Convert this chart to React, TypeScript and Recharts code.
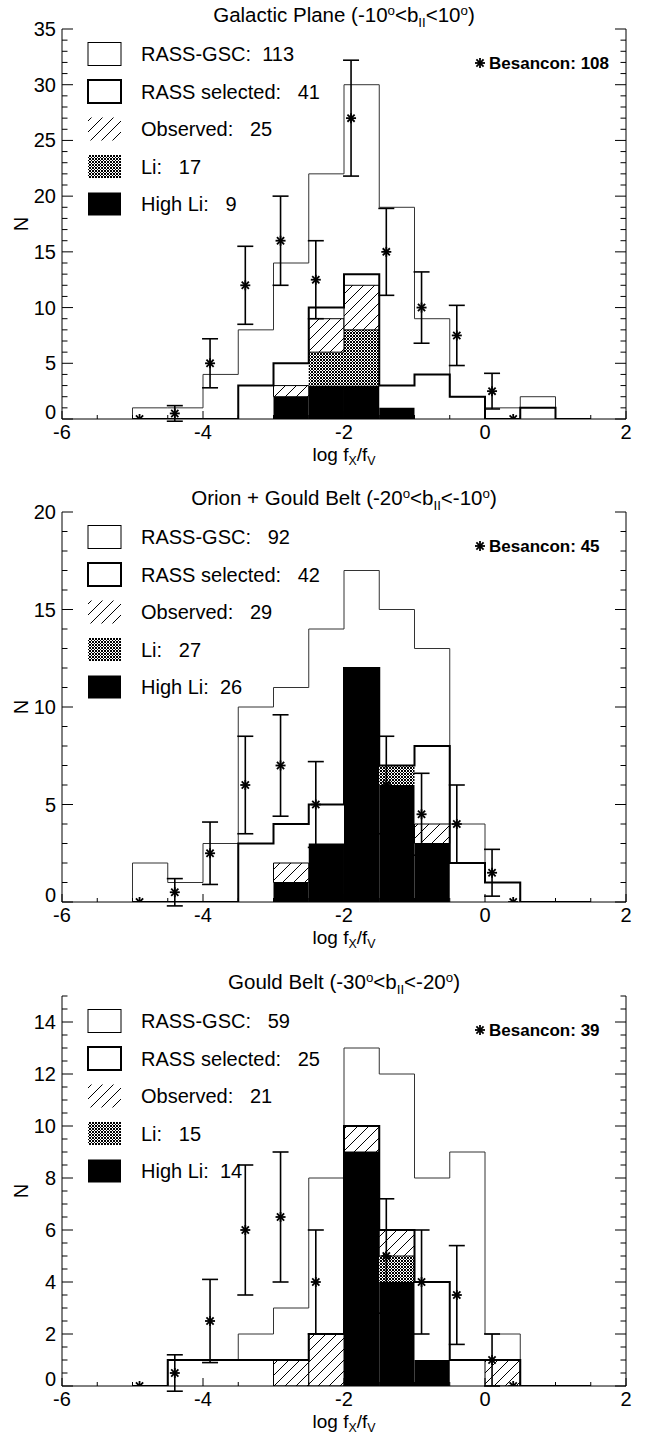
import React from 'react';
import { Bar, ComposedChart, ErrorBar, Line, Scatter, XAxis, YAxis } from 'recharts';

const FONT = '"Liberation Sans", Arial, Helvetica, sans-serif';

// bins of log fx/fv, 0.5 wide
const BIN_EDGES = [-5, -4.5, -4, -3.5, -3, -2.5, -2, -1.5, -1, -0.5, 0, 0.5, 1, 1.5];
const BIN_CENTERS = [-4.75, -4.25, -3.75, -3.25, -2.75, -2.25, -1.75, -1.25, -0.75, -0.25, 0.25, 0.75, 1.25];
const BES_X = [-4.9, -4.4, -3.9, -3.4, -2.9, -2.4, -1.9, -1.4, -0.9, -0.4, 0.1, 0.4];
const X_TICKS = [-6, -5.5, -5, -4.5, -4, -3.5, -3, -2.5, -2, -1.5, -1, -0.5, 0, 0.5, 1, 1.5, 2];
const X_LABELS = [-6, -4, -2, 0, 2];

// Galactic Plane
const GP_GSC = [1, 1, 4, 8, 14, 22, 30, 19, 9, 2, 1, 2, 0];
const GP_SEL = [0, 0, 0, 3, 5, 10, 13, 3, 4, 2, 0, 1, 0];
const GP_OBS = [0, 0, 0, 0, 3, 9, 12, 1, 0, 0, 0, 0, 0];
const GP_LI = [0, 0, 0, 0, 2, 6, 8, 1, 0, 0, 0, 0, 0];
const GP_HLI = [0, 0, 0, 0, 2, 3, 3, 1, 0, 0, 0, 0, 0];
const GP_BES = [0, 0.5, 5, 12, 16, 12.5, 27, 15, 10, 7.5, 2.5, 0];
const GP_ERR = [0, 0.7, 2.2, 3.5, 4, 3.5, 5.2, 3.9, 3.2, 2.7, 1.6, 0];
const GP_Y_LABELS = [0, 5, 10, 15, 20, 25, 30, 35];

// Orion + Gould Belt
const OG_GSC = [2, 1, 3, 10, 11, 14, 17, 15, 13, 4, 1, 0, 0];
const OG_SEL = [0, 0, 0, 3, 4, 5, 12, 7, 8, 2, 1, 0, 0];
const OG_OBS = [0, 0, 0, 0, 2, 3, 12, 7, 4, 0, 0, 0, 0];
const OG_LI = [0, 0, 0, 0, 1, 3, 12, 7, 3, 0, 0, 0, 0];
const OG_HLI = [0, 0, 0, 0, 1, 3, 12, 6, 3, 0, 0, 0, 0];
const OG_BES = [0, 0.5, 2.5, 6, 7, 5, 8, 6, 4.5, 4, 1.5, 0];
const OG_ERR = [0, 0.7, 1.6, 2.5, 2.6, 2.2, 2.8, 2.5, 2.1, 2, 1.2, 0];
const OG_Y_LABELS = [0, 5, 10, 15, 20];

// Gould Belt
const GB_GSC = [0, 1, 1, 2, 3, 8, 13, 12, 8, 9, 2, 0, 0];
const GB_SEL = [0, 1, 1, 1, 1, 2, 10, 6, 4, 1, 1, 0, 0];
const GB_OBS = [0, 0, 0, 0, 1, 2, 10, 6, 1, 0, 1, 0, 0];
const GB_LI = [0, 0, 0, 0, 0, 0, 9, 5, 1, 0, 0, 0, 0];
const GB_HLI = [0, 0, 0, 0, 0, 0, 9, 4, 1, 0, 0, 0, 0];
const GB_BES = [0, 0.5, 2.5, 6, 6.5, 4, 6, 5, 4, 3.5, 1, 0];
const GB_ERR = [0, 0.7, 1.6, 2.5, 2.5, 2, 2.5, 2.2, 2, 1.9, 1, 0];
const GB_Y_LABELS = [0, 2, 4, 6, 8, 10, 12, 14];

const W = 654;
const H = 483;
const PLOT_L = 62;
const PLOT_R = 626;
const PLOT_T = 29;
const PLOT_H = 390;
// a hair under the band so recharts keeps the exact width
const BAR_W = (PLOT_R - PLOT_L) / 16 - 0.01;

type Seg = { t: string; k?: 'sup' | 'sub' };

type PanelSpec = {
  top: number;
  title: Seg[];
  yMax: number;
  yMinor: number;
  yLabels: number[];
  gsc: number[];
  sel: number[];
  obs: number[];
  li: number[];
  hli: number[];
  bes: number[];
  err: number[];
  legend: string[];
  besLabel: string;
};

const PANELS: PanelSpec[] = [
  {
    top: 0,
    title: [{ t: 'Galactic Plane (-10' }, { t: 'o', k: 'sup' }, { t: '<b' }, { t: 'II', k: 'sub' }, { t: '<10' }, { t: 'o', k: 'sup' }, { t: ')' }],
    yMax: 35, yMinor: 1, yLabels: GP_Y_LABELS,
    gsc: GP_GSC, sel: GP_SEL, obs: GP_OBS, li: GP_LI, hli: GP_HLI, bes: GP_BES, err: GP_ERR,
    legend: ['RASS-GSC:  113', 'RASS selected:   41', 'Observed:   25', 'Li:   17', 'High Li:   9'],
    besLabel: 'Besancon: 108',
  },
  {
    top: 483,
    title: [{ t: 'Orion + Gould Belt (-20' }, { t: 'o', k: 'sup' }, { t: '<b' }, { t: 'II', k: 'sub' }, { t: '<-10' }, { t: 'o', k: 'sup' }, { t: ')' }],
    yMax: 20, yMinor: 1, yLabels: OG_Y_LABELS,
    gsc: OG_GSC, sel: OG_SEL, obs: OG_OBS, li: OG_LI, hli: OG_HLI, bes: OG_BES, err: OG_ERR,
    legend: ['RASS-GSC:   92', 'RASS selected:   42', 'Observed:   29', 'Li:   27', 'High Li:  26'],
    besLabel: 'Besancon: 45',
  },
  {
    top: 967,
    title: [{ t: 'Gould Belt (-30' }, { t: 'o', k: 'sup' }, { t: '<b' }, { t: 'II', k: 'sub' }, { t: '<-20' }, { t: 'o', k: 'sup' }, { t: ')' }],
    yMax: 15, yMinor: 0.5, yLabels: GB_Y_LABELS,
    gsc: GB_GSC, sel: GB_SEL, obs: GB_OBS, li: GB_LI, hli: GB_HLI, bes: GB_BES, err: GB_ERR,
    legend: ['RASS-GSC:   59', 'RASS selected:   25', 'Observed:   21', 'Li:   15', 'High Li:  14'],
    besLabel: 'Besancon: 39',
  },
];

// histogram outline as step points: up at the first edge, down at the last
function stepRows(counts: number[]) {
  const rows = [{ x: BIN_EDGES[0], y: 0 }];
  counts.forEach((c, i) => rows.push({ x: BIN_EDGES[i], y: c }));
  const last = BIN_EDGES[counts.length];
  rows.push({ x: last, y: counts[counts.length - 1] });
  rows.push({ x: last, y: 0 });
  return rows;
}

function tickList(max: number, step: number) {
  const out: number[] = [];
  for (let v = 0; v <= max + 1e-9; v += step) out.push(Math.round(v * 100) / 100);
  return out;
}

const has = (list: number[], v: number) => list.some((l) => Math.abs(l - v) < 1e-6);

function Asterisk(props: any) {
  const { cx, cy } = props;
  if (cx == null || cy == null || Number.isNaN(cy)) return null;
  const r = 5;
  const d = 3.6;
  return (
    <g stroke="#000" strokeWidth={1.8}>
      <line x1={cx - r} y1={cy} x2={cx + r} y2={cy} />
      <line x1={cx} y1={cy - r} x2={cx} y2={cy + r} />
      <line x1={cx - d} y1={cy - d} x2={cx + d} y2={cy + d} />
      <line x1={cx - d} y1={cy + d} x2={cx + d} y2={cy - d} />
    </g>
  );
}

function TitleText({ segs, x, y, size, sup = 0.36, sub = 0.22 }: { segs: Seg[]; x: number; y: number; size: number; sup?: number; sub?: number }) {
  let shift = 0;
  return (
    <text x={x} y={y} textAnchor="middle" fontFamily={FONT} fontSize={size} fill="#000">
      {segs.map((s, i) => {
        const target = s.k === 'sup' ? -size * sup : s.k === 'sub' ? size * sub : 0;
        const dy = target - shift;
        shift = target;
        return (
          <tspan key={i} dy={dy} fontSize={s.k ? size * 0.65 : size}>
            {s.t}
          </tspan>
        );
      })}
    </text>
  );
}

function Panel({ spec }: { spec: PanelSpec }) {
  const bars = BIN_CENTERS.map((x, i) => ({
    x,
    hli: spec.hli[i],
    liOnly: spec.li[i] - spec.hli[i],
    obsOnly: spec.obs[i] - spec.li[i],
  }));
  const gscSteps = stepRows(spec.gsc);
  const selSteps = stepRows(spec.sel);
  const besRows = BES_X.map((x, i) => ({ x, y: spec.bes[i], err: spec.err[i] }));
  const yTicks = tickList(spec.yMax, spec.yMinor);

  const bottomTick = (p: any) => {
    const v = p.payload.value;
    const major = has(X_LABELS, v);
    const len = major ? 8 : 4;
    return (
      <g>
        <line x1={p.x} x2={p.x} y1={p.y} y2={p.y - len} stroke="#000" strokeWidth={1} />
        {major && (
          <text x={p.x} y={p.y + 20} textAnchor="middle" fontFamily={FONT} fontSize={20} fill="#000">
            {String(v)}
          </text>
        )}
      </g>
    );
  };
  const topTick = (p: any) => {
    const major = has(X_LABELS, p.payload.value);
    const len = major ? 8 : 4;
    return <line x1={p.x} x2={p.x} y1={p.y} y2={p.y + len} stroke="#000" strokeWidth={1} />;
  };
  const leftTick = (p: any) => {
    const v = p.payload.value;
    const major = has(spec.yLabels, v);
    const len = major ? 11 : 5.5;
    return (
      <g>
        <line x1={p.x} x2={p.x + len} y1={p.y} y2={p.y} stroke="#000" strokeWidth={1} />
        {major && (
          <text x={p.x - 6} y={p.y + 7 - (v === 0 ? 7 : 0)} textAnchor="end" fontFamily={FONT} fontSize={20} fill="#000">
            {String(v)}
          </text>
        )}
      </g>
    );
  };
  const rightTick = (p: any) => {
    const major = has(spec.yLabels, p.payload.value);
    const len = major ? 11 : 5.5;
    return <line x1={p.x} x2={p.x - len} y1={p.y} y2={p.y} stroke="#000" strokeWidth={1} />;
  };

  const rowY = [25, 62.5, 100, 137.5, 175].map((d) => PLOT_T + d);
  const swatch = (i: number, y: number) => {
    const x = 88;
    const w = 33;
    const h = 23;
    if (i === 0) return <rect x={x} y={y - h / 2} width={w} height={h} fill="#fff" stroke="#000" strokeWidth={1} />;
    if (i === 1) return <rect x={x} y={y - h / 2} width={w} height={h} fill="#fff" stroke="#000" strokeWidth={2} />;
    if (i === 2) return <rect x={x} y={y - h / 2} width={w} height={h} fill="url(#hatch)" />;
    if (i === 3) return <rect x={x} y={y - h / 2} width={w} height={h} fill="url(#xhatch)" />;
    return <rect x={x} y={y - h / 2} width={w} height={h} fill="#000" />;
  };

  return (
    <div style={{ position: 'absolute', left: 0, top: spec.top, width: W, height: H }}>
      <ComposedChart width={W} height={H} data={bars} margin={{ top: PLOT_T, right: 0, bottom: 0, left: 0 }} barGap={0}>
        <XAxis
          dataKey="x"
          type="number"
          domain={[-6, 2]}
          allowDataOverflow
          ticks={X_TICKS}
          interval={0}
          height={H - PLOT_T - PLOT_H}
          tickSize={0}
          tickMargin={0}
          tickLine={false}
          axisLine={{ stroke: '#000', strokeWidth: 1 }}
          tick={bottomTick}
        />
        <XAxis xAxisId="bars" dataKey="x" type="number" domain={[-6, 2]} allowDataOverflow hide />
        <XAxis
          xAxisId="top"
          orientation="top"
          type="number"
          domain={[-6, 2]}
          allowDataOverflow
          ticks={X_TICKS}
          interval={0}
          height={0}
          tickSize={0}
          tickMargin={0}
          tickLine={false}
          axisLine={{ stroke: '#000', strokeWidth: 1 }}
          tick={topTick}
        />
        <YAxis
          type="number"
          domain={[0, spec.yMax]}
          allowDataOverflow
          ticks={yTicks}
          interval={0}
          width={PLOT_L}
          tickSize={0}
          tickMargin={0}
          tickLine={false}
          axisLine={{ stroke: '#000', strokeWidth: 1 }}
          tick={leftTick}
        />
        <YAxis
          yAxisId="right"
          orientation="right"
          type="number"
          domain={[0, spec.yMax]}
          allowDataOverflow
          ticks={yTicks}
          interval={0}
          width={W - PLOT_R}
          tickSize={0}
          tickMargin={0}
          tickLine={false}
          axisLine={{ stroke: '#000', strokeWidth: 1 }}
          tick={rightTick}
        />
        <Bar xAxisId="bars" dataKey="hli" stackId="s" fill="#000" barSize={BAR_W} isAnimationActive={false} />
        <Bar xAxisId="bars" dataKey="liOnly" stackId="s" fill="url(#xhatch)" barSize={BAR_W} isAnimationActive={false} />
        <Bar xAxisId="bars" dataKey="obsOnly" stackId="s" fill="url(#hatch)" stroke="#000" strokeWidth={1} barSize={BAR_W} isAnimationActive={false} />
        <Line data={gscSteps} dataKey="y" type="stepAfter" stroke="#333" strokeWidth={1} dot={false} activeDot={false} isAnimationActive={false} />
        <Line data={selSteps} dataKey="y" type="stepAfter" stroke="#000" strokeWidth={2} dot={false} activeDot={false} isAnimationActive={false} />
        <Scatter data={besRows} dataKey="y" shape={Asterisk} isAnimationActive={false}>
          <ErrorBar dataKey="err" direction="y" width={8} stroke="#000" strokeWidth={1.6} isAnimationActive={false} />
        </Scatter>
      </ComposedChart>
      <svg width={W} height={H} style={{ position: 'absolute', left: 0, top: 0, pointerEvents: 'none' }}>
        <TitleText segs={spec.title} x={(PLOT_L + PLOT_R) / 2} y={22} size={20.5} />
        {spec.legend.map((label, i) => (
          <g key={label}>
            {swatch(i, rowY[i])}
            <text x={141} y={rowY[i] + 7} fontFamily={FONT} fontSize={20} fill="#000" style={{ whiteSpace: 'pre' }}>
              {label}
            </text>
          </g>
        ))}
        <Asterisk cx={480} cy={PLOT_T + 34} />
        <text x={489} y={PLOT_T + 34 + 6} fontFamily={FONT} fontSize={17} fontWeight="bold" fill="#000">
          {spec.besLabel}
        </text>
        <text transform={`translate(28, ${PLOT_T + PLOT_H / 2}) rotate(-90)`} textAnchor="middle" fontFamily={FONT} fontSize={20} fill="#000">
          N
        </text>
        <TitleText
          segs={[{ t: 'log f' }, { t: 'X', k: 'sub' }, { t: '/f' }, { t: 'V', k: 'sub' }]}
          x={(PLOT_L + PLOT_R) / 2}
          y={PLOT_T + PLOT_H + 42}
          size={19}
          sub={0.2}
        />
      </svg>
    </div>
  );
}

export default function App() {
  return (
    <div style={{ position: 'absolute', left: 0, top: 0, width: W, height: 1436, background: '#fff', overflow: 'hidden' }}>
      <svg width={0} height={0} style={{ position: 'absolute' }}>
        <defs>
          <pattern id="hatch" patternUnits="userSpaceOnUse" width={11} height={11}>
            <rect width={11} height={11} fill="#fff" />
            <path d="M-1,12 L12,-1" stroke="#000" strokeWidth={1} />
          </pattern>
          <pattern id="xhatch" patternUnits="userSpaceOnUse" width={3} height={3}>
            <rect width={3} height={3} fill="#fff" />
            <path d="M0,0 L3,3 M3,0 L0,3" stroke="#000" strokeWidth={1} />
          </pattern>
        </defs>
      </svg>
      {PANELS.map((p) => (
        <Panel key={p.top} spec={p} />
      ))}
    </div>
  );
}
